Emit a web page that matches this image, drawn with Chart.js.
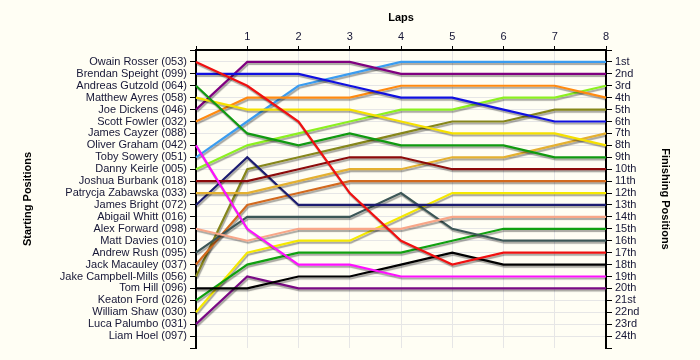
<!DOCTYPE html>
<html>
<head>
<meta charset="utf-8">
<script src="https://cdn.jsdelivr.net/npm/chart.js@4.4.1/dist/chart.umd.min.js"></script>
<style>
  html, body { margin: 0; padding: 0; background: #fffef4; }
  #wrap { width: 700px; height: 360px; }
</style>
</head>
<body>
<div id="wrap"><canvas id="lapChart"></canvas></div>
<script>
// laps along the top
const laps = ['0', '1', '2', '3', '4', '5', '6', '7', '8'];

// grid order at the start (left axis)
const startNames = [
  'Owain Rosser (053)', 'Brendan Speight (099)', 'Andreas Gutzold (064)', 'Matthew Ayres (058)',
  'Joe Dickens (046)', 'Scott Fowler (032)', 'James Cayzer (088)', 'Oliver Graham (042)',
  'Toby Sowery (051)', 'Danny Keirle (005)', 'Joshua Burbank (018)', 'Patrycja Zabawska (033)',
  'James Bright (072)', 'Abigail Whitt (016)', 'Alex Forward (098)', 'Matt Davies (010)',
  'Andrew Rush (095)', 'Jack Macauley (037)', 'Jake Campbell-Mills (056)', 'Tom Hill (096)',
  'Keaton Ford (026)', 'William Shaw (030)', 'Luca Palumbo (031)', 'Liam Hoel (097)'
];

// right axis
const finishLabels = [
  '1st', '2nd', '3rd', '4th', '5th', '6th', '7th', '8th', '9th', '10th', '11th', '12th',
  '13th', '14th', '15th', '16th', '17th', '18th', '19th', '20th', '21st', '22nd', '23rd', '24th'
];

// riders that show a line, and their position at the end of each lap (lap 0 = grid)
const riders = [
  'Owain Rosser', 'Brendan Speight', 'Andreas Gutzold', 'Matthew Ayres', 'Joe Dickens',
  'Scott Fowler', 'Oliver Graham', 'Toby Sowery', 'Danny Keirle', 'Joshua Burbank',
  'Patrycja Zabawska', 'James Bright', 'Alex Forward', 'Andrew Rush', 'Jack Macauley',
  'Jake Campbell-Mills', 'Tom Hill', 'Keaton Ford', 'William Shaw', 'Luca Palumbo'
];

const riderLaps = [
  [1, 3, 6, 12, 16, 18, 17, 17, 17],
  [2, 2, 2, 3, 4, 4, 5, 6, 6],
  [3, 7, 8, 7, 8, 8, 8, 9, 9],
  [4, 5, 5, 5, 6, 7, 7, 7, 8],
  [5, 1, 1, 1, 2, 2, 2, 2, 2],
  [6, 4, 4, 4, 3, 3, 3, 3, 4],
  [8, 15, 18, 18, 19, 19, 19, 19, 19],
  [9, 6, 3, 2, 1, 1, 1, 1, 1],
  [10, 8, 7, 6, 5, 5, 4, 4, 3],
  [11, 11, 10, 9, 9, 10, 10, 10, 10],
  [12, 12, 11, 10, 10, 9, 9, 8, 7],
  [13, 9, 13, 13, 13, 13, 13, 13, 13],
  [15, 16, 15, 15, 15, 14, 14, 14, 14],
  [17, 14, 14, 14, 12, 15, 16, 16, 16],
  [18, 13, 12, 11, 11, 11, 11, 11, 11],
  [19, 10, 9, 8, 7, 6, 6, 5, 5],
  [20, 20, 19, 19, 18, 17, 18, 18, 18],
  [21, 18, 17, 17, 17, 16, 15, 15, 15],
  [22, 17, 16, 16, 14, 12, 12, 12, 12],
  [23, 19, 20, 20, 20, 20, 20, 20, 20]
];

const riderColors = [
  '#f01010', '#1010e0', '#109a10', '#f5e000', '#800080',
  '#ff8a10', '#ff10ff', '#3a9cf0', '#8cf020', '#8c0a0a',
  '#e4b030', '#1c1c70', '#f8a688', '#3c5656', '#d2691e',
  '#86861a', '#000000', '#10a010', '#f5e800', '#7a0a84'
];

const textColor = '#161636';
const gridColor = '#e6e6e6';
const labelFont = { family: 'Liberation Sans, Arial, sans-serif', size: 11 };
const titleFont = { family: 'Liberation Sans, Arial, sans-serif', size: 11, weight: 'bold' };

const datasets = riders.map(function (name, i) {
  return {
    label: name,
    data: riderLaps[i],
    borderColor: riderColors[i],
    backgroundColor: riderColors[i],
    borderWidth: 2.2,
    pointRadius: 0,
    tension: 0,
    fill: false,
    yAxisID: 'y'
  };
});

// every position gets a tick, plus blank ones at 0 and 25 for the ends
function allTicks(scale) {
  const t = [];
  for (let v = 0; v <= 25; v++) t.push({ value: v });
  scale.ticks = t;
}

function gridFor(ctx) {
  if (ctx.tick && (ctx.tick.value === 0 || ctx.tick.value === 25)) return 'rgba(0,0,0,0)';
  return gridColor;
}

// soft grey drop shadow under each line
const lineShadow = {
  id: 'lineShadow',
  beforeDatasetDraw: function (chart) {
    const c = chart.ctx;
    c.save();
    c.shadowColor = 'rgba(0,0,0,0.35)';
    c.shadowOffsetX = 1;
    c.shadowOffsetY = 2;
    c.shadowBlur = 1;
  },
  afterDatasetDraw: function (chart) {
    chart.ctx.restore();
  }
};

new Chart(document.getElementById('lapChart'), {
  type: 'line',
  data: { labels: laps, datasets: datasets },
  plugins: [lineShadow],
  options: {
    responsive: true,
    maintainAspectRatio: false,
    animation: false,
    layout: { padding: { bottom: 12 } },
    plugins: { legend: { display: false }, tooltip: { enabled: false } },
    scales: {
      x: {
        type: 'category',
        position: 'top',
        offset: false,
        grid: { color: gridColor, tickColor: '#000', tickLength: 4 },
        border: { color: '#000', width: 2 },
        ticks: {
          color: textColor, font: labelFont, padding: 2, maxRotation: 0, autoSkip: false,
          callback: function (v, i) { return i === 0 ? '' : laps[i]; }
        },
        title: { display: true, text: 'Laps', color: '#000', font: titleFont, padding: { top: 11, bottom: 0 } },
        afterFit: function (s) { s.height = 50; }
      },
      y: {
        type: 'linear',
        position: 'left',
        min: 0,
        max: 25,
        reverse: true,
        afterBuildTicks: allTicks,
        grid: { color: gridFor, tickColor: '#000', tickLength: 6 },
        border: { color: '#000', width: 2 },
        ticks: {
          color: textColor, font: labelFont, padding: 3, autoSkip: false,
          callback: function (v) { return startNames[v - 1] || ''; }
        },
        title: { display: true, text: 'Starting Positions', color: '#000', font: titleFont, padding: { top: 21, bottom: 0 } },
        afterFit: function (s) { s.width = 196; }
      },
      y2: {
        type: 'linear',
        position: 'right',
        min: 0,
        max: 25,
        reverse: true,
        afterBuildTicks: allTicks,
        grid: { drawOnChartArea: false, tickColor: '#000', tickLength: 6 },
        border: { color: '#000', width: 2 },
        ticks: {
          color: textColor, font: labelFont, padding: 3, autoSkip: false,
          callback: function (v) { return finishLabels[v - 1] || ''; }
        },
        title: { display: true, text: 'Finishing Positions', color: '#000', font: titleFont, padding: { top: 28, bottom: 0 } },
        afterFit: function (s) { s.width = 94; }
      }
    }
  }
});
</script>
</body>
</html>
